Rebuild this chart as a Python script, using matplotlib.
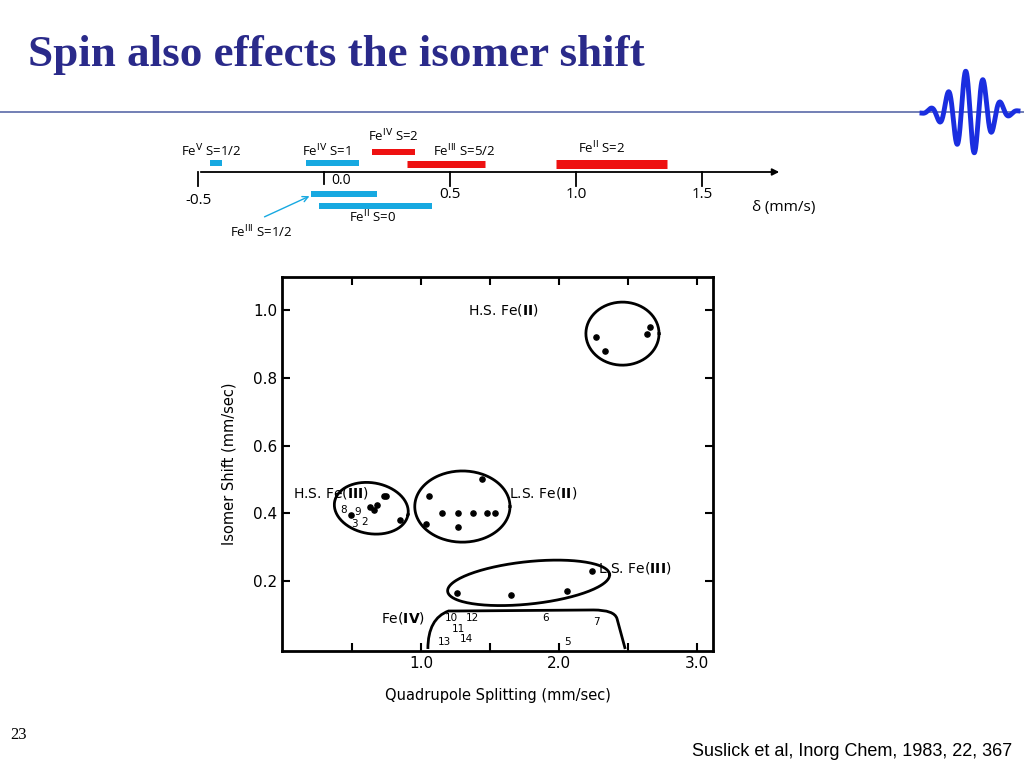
import matplotlib
matplotlib.use("Agg")
import matplotlib.pyplot as plt
import numpy as np
from matplotlib.path import Path
from matplotlib.patches import PathPatch

# ---- top scale data (delta, mm/s) ----
bar_labels = ['Fe$^{\\mathrm{V}}$ S=1/2', 'Fe$^{\\mathrm{IV}}$ S=1', 'Fe$^{\\mathrm{IV}}$ S=2',
              'Fe$^{\\mathrm{III}}$ S=5/2', 'Fe$^{\\mathrm{II}}$ S=2',
              'Fe$^{\\mathrm{III}}$ S=1/2', 'Fe$^{\\mathrm{II}}$ S=0']
bar_start = [-0.452, -0.07, 0.19, 0.33, 0.92, -0.05, -0.02]
bar_end = [-0.405, 0.14, 0.36, 0.64, 1.36, 0.21, 0.43]
bar_colors = ['#17a9e1', '#17a9e1', '#ee1111', '#ee1111', '#ee1111', '#17a9e1', '#17a9e1']
scale_ticks = [-0.5, 0.0, 0.5, 1.0, 1.5]

# ---- scatter data (quadrupole splitting, isomer shift) ----
hs_fe2_x = [2.27, 2.33, 2.64, 2.66]
hs_fe2_y = [0.92, 0.88, 0.93, 0.95]
hs_fe3_x = [0.49, 0.63, 0.66, 0.68, 0.73, 0.75, 0.85]
hs_fe3_y = [0.395, 0.42, 0.41, 0.425, 0.45, 0.45, 0.38]
ls_fe2_x = [1.06, 1.04, 1.15, 1.27, 1.27, 1.38, 1.48, 1.54, 1.44]
ls_fe2_y = [0.45, 0.37, 0.40, 0.40, 0.36, 0.40, 0.40, 0.40, 0.50]
ls_fe3_x = [1.26, 1.65, 2.06, 2.24]
ls_fe3_y = [0.165, 0.16, 0.17, 0.23]

fig = plt.figure(figsize=(10.24, 7.68), dpi=100)

# title, rule and wave logo
fig.text(28/1024, 1-55/768, 'Spin also effects the isomer shift', family='Liberation Serif',
         weight='bold', size=32.5, color='#2a2a8a', va='center')
fig.add_artist(plt.Line2D([0, 1], [1-112/768]*2, color='#5a6aa8', lw=1.2))
t = np.linspace(-1, 1, 400)
wx = (970 + t * 48) / 1024
wy = 1 - (112 + 42 * np.exp(-(t*1.9)**2) * np.sin(t * 5.5 * np.pi)) / 768
fig.add_artist(plt.Line2D(wx, wy, color='#1a2ee0', lw=3.5))

fig.text(10/1024, 1-735/768, '23', family='Liberation Serif', size=12, va='center')
fig.text(1012/1024, 1-752/768, 'Suslick et al, Inorg Chem, 1983, 22, 367',
         family='Liberation Sans', size=13, ha='right', va='center')

# ---- top scale axes: x in delta, y in pixels ----
ax0 = fig.add_axes([170/1024, 1-250/768, 660/1024, 130/768])
ax0.set_xlim((170-324)/252, (830-324)/252)
ax0.set_ylim(250, 120)
ax0.axis('off')
ax0.annotate('', xy=((782-324)/252, 172), xytext=(-0.5, 172),
             arrowprops=dict(arrowstyle='-|>', color='black', lw=1.3, mutation_scale=10))
for v in scale_ticks:
    ax0.plot([v, v], [172, 186] if v != 0 else [172, 184], color='black', lw=1.3)
    if v == 0:
        ax0.text(v + 0.03, 181, '0.0', family='Open Sans', size=10, va='center')
    else:
        ax0.text(v, 194 if v > 0 else 200, '%.1f' % v, family='Open Sans', size=11, ha='center', va='center')
ax0.text((752-324)/252, 207, 'δ (mm/s)', family='Open Sans', size=11, va='center')
bar_y = [163, 163, 152, 164, 164, 194, 206]
bar_h = [6, 6, 6, 7, 9, 6, 6]
for s, e, c, y, h in zip(bar_start, bar_end, bar_colors, bar_y, bar_h):
    ax0.plot([s, e], [y, y], color=c, lw=h * 0.72, solid_capstyle='butt')
lab_pos = [(181, 151), (302, 151), (368, 136), (433, 151), (578, 148), (230, 232), (349, 217)]
for lab, (px, py) in zip(bar_labels, lab_pos):
    ax0.text((px-324)/252, py, lab, family='Open Sans', size=9.5, va='center')
ax0.annotate('', xy=((312-324)/252, 195), xytext=((262-324)/252, 218),
             arrowprops=dict(arrowstyle='->', color='#17a9e1', lw=1))

# ---- scatter axes ----
ax = fig.add_axes([282/1024, 1-651/768, 431/1024, 374/768])
ax.set_xlim(-0.007, 3.116)
ax.set_ylim(-0.006, 1.097)
for sp in ax.spines.values():
    sp.set_linewidth(2)
ax.set_xticks([1.0, 2.0, 3.0])
ax.set_xticklabels(['1.0', '2.0', '3.0'])
ax.set_xticks([0.5, 1.5, 2.5], minor=True)
ax.set_yticks([0.2, 0.4, 0.6, 0.8, 1.0])
ax.tick_params(which='both', direction='in', top=True, right=True, width=1.5, labelsize=11)
ax.tick_params(which='major', length=6)
ax.tick_params(which='minor', length=6)
ax.set_xlabel('Quadrupole Splitting (mm/sec)', size=10.5, labelpad=12)
ax.set_ylabel('Isomer Shift (mm/sec)', size=10.5, labelpad=12)

for xs, ys in [(hs_fe2_x, hs_fe2_y), (hs_fe3_x, hs_fe3_y), (ls_fe2_x, ls_fe2_y), (ls_fe3_x, ls_fe3_y)]:
    ax.scatter(xs, ys, s=14, color='black', zorder=3)

sx, sy = 138, 339


def ellipse(cx, cy, w, h, ang):
    # draw in pixel-like space so rotation is not distorted
    th = np.linspace(0, 2*np.pi, 200)
    a, b = w*sx/2, h*sy/2
    r = np.radians(ang)
    px = a*np.cos(th)*np.cos(r) - b*np.sin(th)*np.sin(r)
    py = a*np.cos(th)*np.sin(r) + b*np.sin(th)*np.cos(r)
    ax.plot(cx + px/sx, cy + py/sy, color='black', lw=2)


ellipse(2.46, 0.93, 0.53, 0.186, 0)
ellipse(0.64, 0.415, 0.54, 0.15, -10)
ellipse(1.30, 0.42, 0.69, 0.21, 0)
ellipse(1.78, 0.195, 1.18, 0.125, 6)

verts = [(1.05, 0.0), (1.05, 0.09), (1.20, 0.112), (1.25, 0.112), (2.25, 0.115),
         (2.40, 0.115), (2.42, 0.09), (2.48, 0.0)]
codes = [Path.MOVETO, Path.CURVE3, Path.CURVE3, Path.LINETO, Path.LINETO,
         Path.CURVE3, Path.CURVE3, Path.LINETO]
ax.add_patch(PathPatch(Path(verts, codes), fill=False, lw=2))

ax.text(1.34, 1.0, 'H.S. Fe($\\mathbf{II}$)', size=10, va='center')
ax.text(0.07, 0.46, 'H.S. Fe($\\mathbf{III}$)', size=10, va='center')
ax.text(1.64, 0.46, 'L.S. Fe($\\mathbf{II}$)', size=10, va='center')
ax.text(2.28, 0.24, 'L.S. Fe($\\mathbf{III}$)', size=10, va='center')
ax.text(0.71, 0.09, 'Fe($\\mathbf{IV}$)', size=10, va='center')
nums = [('10', 1.22, 0.09), ('12', 1.37, 0.09), ('11', 1.27, 0.06), ('13', 1.17, 0.02),
        ('14', 1.33, 0.03), ('6', 1.9, 0.09), ('7', 2.27, 0.08), ('5', 2.06, 0.02),
        ('8', 0.44, 0.41), ('9', 0.54, 0.405), ('3', 0.52, 0.37), ('2', 0.59, 0.375)]
for n, x, y in nums:
    ax.text(x, y, n, size=7.5, ha='center', va='center')

fig.savefig('out.png', dpi=100)
